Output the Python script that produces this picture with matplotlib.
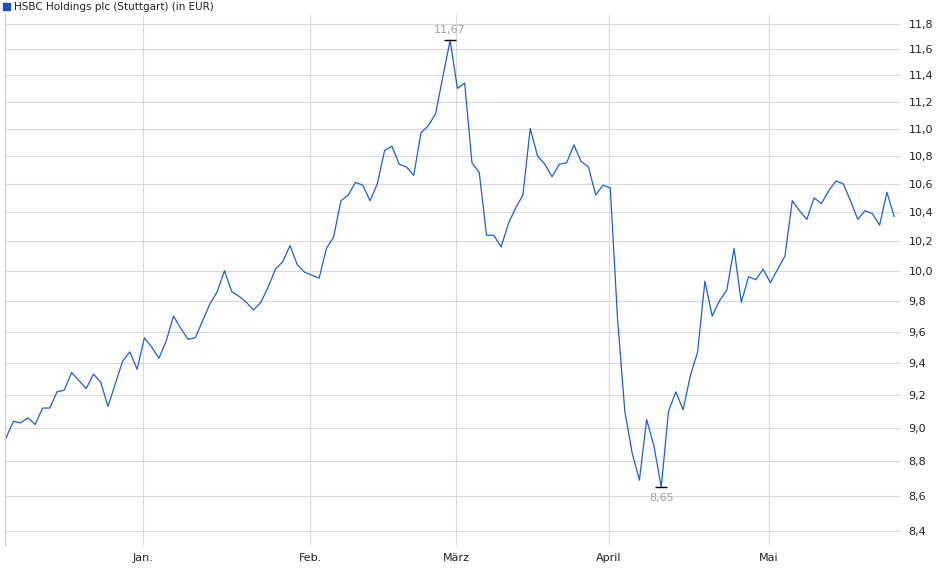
import numpy as np
import pandas as pd
import matplotlib
matplotlib.use("Agg")
import matplotlib.pyplot as plt
from matplotlib.ticker import FixedLocator, NullLocator

start_date = "2024-12-06"
values = [8.94, 9.04, 9.03, 9.06, 9.02, 9.12, 9.12, 9.22, 9.23, 9.34, 9.29, 9.24, 9.33, 9.28, 9.13,
          9.27, 9.41, 9.47, 9.36, 9.56, 9.50, 9.43, 9.54, 9.70, 9.62, 9.55, 9.56, 9.67, 9.78, 9.86,
          10.00, 9.86, 9.83, 9.79, 9.74, 9.79, 9.89, 10.01, 10.06, 10.17, 10.04, 9.99, 9.97, 9.95,
          10.15, 10.23, 10.48, 10.52, 10.61, 10.59, 10.48, 10.60, 10.84, 10.87, 10.74, 10.72, 10.66,
          10.97, 11.02, 11.11, 11.39, 11.67, 11.30, 11.34, 10.75, 10.68, 10.24, 10.24, 10.16, 10.32,
          10.43, 10.52, 11.00, 10.80, 10.74, 10.65, 10.74, 10.75, 10.88, 10.76, 10.72, 10.52, 10.59,
          10.57, 9.68, 9.10, 8.85, 8.69, 9.05, 8.89, 8.65, 9.10, 9.22, 9.11, 9.32, 9.47, 9.93, 9.70,
          9.80, 9.87, 10.15, 9.79, 9.96, 9.94, 10.01, 9.92, 10.01, 10.10, 10.48, 10.41, 10.35, 10.50,
          10.46, 10.55, 10.62, 10.60, 10.48, 10.35, 10.41, 10.39, 10.31, 10.54, 10.37]
dates = pd.bdate_range(start_date, periods=len(values))
month_starts = pd.to_datetime(["2025-01-01", "2025-02-01", "2025-03-01", "2025-04-01", "2025-05-01"])
month_labels = ["Jan.", "Feb.", "März", "April", "Mai"]
y_ticks = [8.4, 8.6, 8.8, 9.0, 9.2, 9.4, 9.6, 9.8, 10.0, 10.2, 10.4, 10.6, 10.8, 11.0, 11.2, 11.4, 11.6, 11.8]
title = "HSBC Holdings plc (Stuttgart) (in EUR)"

x = np.arange(len(values))
month_pos = np.searchsorted(dates.values, month_starts.values) + 0.8

fig = plt.figure(figsize=(9.4, 5.79), dpi=100)
ax = fig.add_axes([5/940, 34/579, 895/940, 530/579])
line_color = "#1f5fc8"
ax.plot(x, values, color=line_color, lw=0.9)
ax.set_yscale("log")
ax.set_ylim(8.32, 11.87)
ax.set_xlim(-0.15, len(values) - 1 + 0.8)
ax.yaxis.set_major_locator(FixedLocator(y_ticks))
ax.yaxis.set_minor_locator(NullLocator())
ax.set_yticklabels([f"{v:.1f}".replace(".", ",") for v in y_ticks])
ax.yaxis.tick_right()
ax.set_xticks(month_pos)
ax.set_xticklabels(month_labels)
ax.tick_params(axis="both", length=0, labelsize=8, colors="#222222", pad=6)
ax.grid(True, color="#d9d9d9", lw=0.8)
ax.set_axisbelow(True)
for s in ["top", "right", "bottom"]:
    ax.spines[s].set_visible(False)
ax.spines["left"].set_color("#cccccc")

imax = int(np.argmax(values)); imin = int(np.argmin(values))
for i, off, va in [(imax, 4, "bottom"), (imin, -4, "top")]:
    ax.plot([x[i]], [values[i]], marker="_", color="black", ms=8, mew=1)
    ax.annotate(f"{values[i]:.2f}".replace(".", ","), (x[i], values[i]), xytext=(0, off),
                textcoords="offset points", ha="center", va=va, fontsize=8, color="#a0a0a0")

fig.patches.append(plt.Rectangle((3/940, 1 - 10/579), 7/940, 7/579, transform=fig.transFigure,
                                 color="#1f4fb0", figure=fig))
fig.text(14/940, 1 - 6.5/579, title, fontsize=7.5, va="center", ha="left", color="#222222")

fig.savefig("out.png", dpi=100)
